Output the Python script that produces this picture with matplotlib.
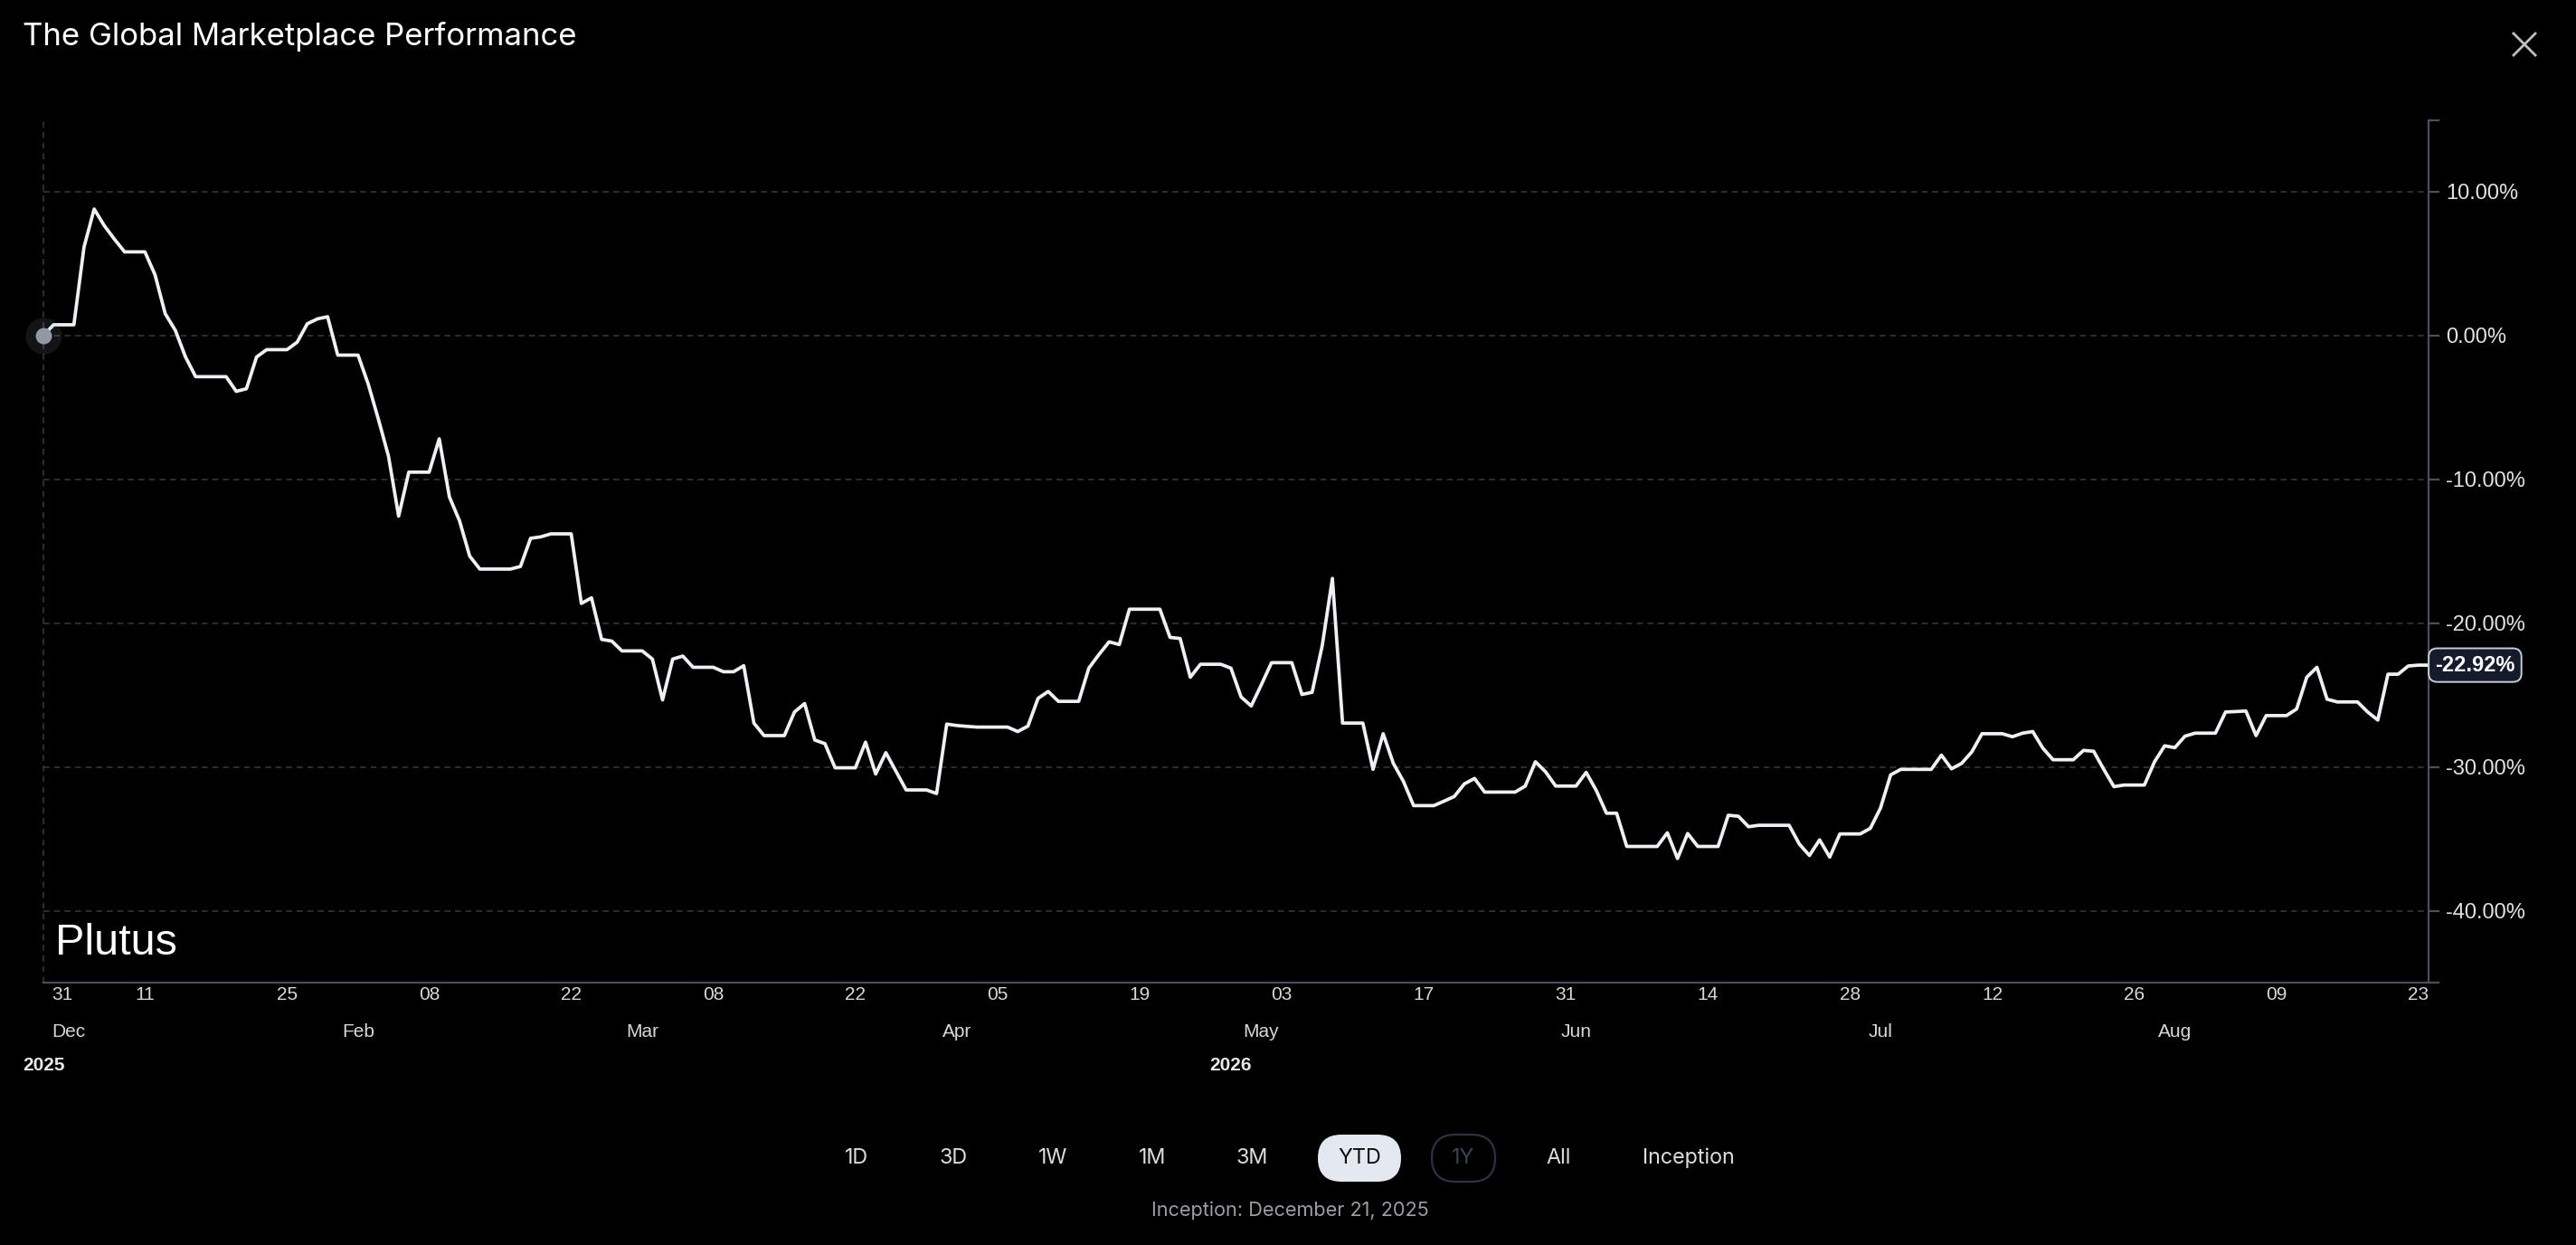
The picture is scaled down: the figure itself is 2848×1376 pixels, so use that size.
import pandas as pd
import matplotlib
matplotlib.use("Agg")
from matplotlib import pyplot as plt
from matplotlib import transforms
from matplotlib.ticker import FixedLocator, FuncFormatter
from matplotlib.patches import FancyBboxPatch
from matplotlib.lines import Line2D

# daily performance (%) since the start of the year
pct = [
    0, 0.75, 0.75, 0.75, 6.15, 8.8, 7.64, 6.7, 5.82, 5.82,
    5.82, 4.22, 1.52, 0.36, -1.49, -2.86, -2.86, -2.86, -2.86, -3.88,
    -3.7, -1.49, -0.98, -0.98, -0.98, -0.46, 0.82, 1.16, 1.31, -1.36,
    -1.36, -1.36, -3.37, -5.81, -8.39, -12.56, -9.5, -9.5, -9.5, -7.18,
    -11.22, -12.89, -15.34, -16.24, -16.24, -16.24, -16.24, -16.06, -14.1, -14.0,
    -13.79, -13.79, -13.79, -18.63, -18.24, -21.13, -21.25, -21.93, -21.93, -21.93,
    -22.5, -25.34, -22.5, -22.29, -23.07, -23.07, -23.07, -23.38, -23.38, -22.96,
    -26.95, -27.82, -27.82, -27.82, -26.18, -25.59, -28.13, -28.38, -30.06, -30.06,
    -30.06, -28.28, -30.49, -29.01, -30.3, -31.6, -31.6, -31.6, -31.85, -27.02,
    -27.12, -27.18, -27.23, -27.23, -27.23, -27.23, -27.54, -27.16, -25.23, -24.75,
    -25.44, -25.44, -25.44, -23.13, -22.18, -21.3, -21.49, -19.03, -19.03, -19.03,
    -19.03, -20.99, -21.07, -23.76, -22.86, -22.86, -22.86, -23.13, -25.13, -25.76,
    -24.28, -22.75, -22.75, -22.75, -24.96, -24.81, -21.55, -16.89, -26.95, -26.95,
    -26.95, -30.17, -27.69, -29.75, -31.01, -32.69, -32.69, -32.69, -32.38, -32.06,
    -31.18, -30.8, -31.75, -31.75, -31.75, -31.75, -31.33, -29.64, -30.34, -31.33,
    -31.33, -31.33, -30.38, -31.64, -33.22, -33.22, -35.53, -35.53, -35.53, -35.53,
    -34.58, -36.37, -34.63, -35.53, -35.53, -35.53, -33.36, -33.43, -34.16, -34.06,
    -34.06, -34.06, -34.06, -35.36, -36.16, -35.07, -36.27, -34.66, -34.66, -34.66,
    -34.27, -32.86, -30.55, -30.17, -30.17, -30.17, -30.17, -29.18, -30.13, -29.75,
    -28.95, -27.69, -27.69, -27.69, -27.9, -27.65, -27.54, -28.7, -29.5, -29.5,
    -29.5, -28.85, -28.91, -30.17, -31.37, -31.26, -31.26, -31.26, -29.64, -28.53,
    -28.66, -27.86, -27.65, -27.65, -27.65, -26.18, -26.15, -26.11, -27.82, -26.43,
    -26.43, -26.43, -25.97, -23.76, -23.07, -25.29, -25.48, -25.48, -25.48, -26.18,
    -26.74, -23.55, -23.55, -22.98, -22.92, -22.92,
]
dates = pd.date_range("2026-01-01", periods=len(pct), freq="D")

tick_dates = pd.to_datetime([
    "2026-01-01", "2026-01-11", "2026-01-25", "2026-02-08", "2026-02-22",
    "2026-03-08", "2026-03-22", "2026-04-05", "2026-04-19", "2026-05-03",
    "2026-05-17", "2026-05-31", "2026-06-14", "2026-06-28", "2026-07-12",
    "2026-07-26", "2026-08-09", "2026-08-23",
])
tick_labels = ["31", "11", "25", "08", "22", "08", "22", "05", "19", "03",
               "17", "31", "14", "28", "12", "26", "09", "23"]
month_dates = pd.to_datetime([
    "2026-01-01", "2026-02-01", "2026-03-01", "2026-04-01", "2026-05-01",
    "2026-06-01", "2026-07-01", "2026-07-30",
])
month_labels = ["Dec", "Feb", "Mar", "Apr", "May", "Jun", "Jul", "Aug"]
year_dates = pd.to_datetime(["2026-01-01", "2026-04-28"])
year_labels = ["2025", "2026"]
y_ticks = [-40, -30, -20, -10, 0, 10]

ranges = ["1D", "3D", "1W", "1M", "3M", "YTD", "1Y", "All", "Inception"]
range_x = [947, 1054, 1164, 1274, 1384, 1503, 1618, 1723, 1867]
active_range = "YTD"
disabled_range = "1Y"

W, H, DPI = 2848, 1376, 200
AX_COL = "#4b505e"
SANS = ["Liberation Sans", "DejaVu Sans"]
UI = ["Inter", "DejaVu Sans"]

fig = plt.figure(figsize=(W / DPI, H / DPI), dpi=DPI, facecolor="black")
ax = fig.add_axes([48 / W, 290 / H, 2637 / W, 953.5 / H])
ax.set_facecolor("black")

# Plot
ax.plot(dates, pct, color="#eef0f6", lw=1.35, solid_joinstyle="round", zorder=3)
ax.scatter(dates[:1], pct[:1], s=210, color="#9aa1ad", alpha=0.13, lw=0,
           zorder=4, clip_on=False)
ax.scatter(dates[:1], pct[:1], s=42, color="#9299a6", lw=0, zorder=5,
           clip_on=False)

ax.set_xlim(dates[0], dates[-1])
ax.set_ylim(-45, 15)

for y in y_ticks:
    ax.axhline(y, color="#363636", lw=0.6, ls=(0, (4, 3)), zorder=1)
ax.axvline(dates[0], color="#363636", lw=0.6, ls=(0, (4, 3)), zorder=1,
           clip_on=False)

for side in ["left", "top"]:
    ax.spines[side].set_visible(False)
for side in ["right", "bottom"]:
    ax.spines[side].set_color(AX_COL)
    ax.spines[side].set_linewidth(0.8)

# y axis on the right
ax.yaxis.tick_right()
ax.yaxis.set_major_locator(FixedLocator(y_ticks))
ax.yaxis.set_minor_locator(FixedLocator([-45, 15]))
ax.yaxis.set_major_formatter(FuncFormatter(lambda v, _: f"{v:.2f}%"))
ax.tick_params(axis="y", which="both", length=4.3, width=0.8, color=AX_COL,
               pad=2.5, labelsize=8.5, labelcolor="#e2e2e2")
for lab in ax.get_yticklabels():
    lab.set_family(SANS)

# x axis: days, months, years
ax.set_xticks(tick_dates, tick_labels)
ax.tick_params(axis="x", length=0, pad=1.6, labelsize=7.5, labelcolor="#d8d8d8")
for lab in ax.get_xticklabels():
    lab.set_family(SANS)
first = ax.get_xticklabels()[0]
first.set_ha("left")
first.set_transform(first.get_transform()
                    + transforms.ScaledTranslation(9 / DPI, 0, fig.dpi_scale_trans))

xa = transforms.blended_transform_factory(ax.transData, ax.transAxes)
for i, (d, m) in enumerate(zip(month_dates, month_labels)):
    tr = xa
    ha = "center"
    if i == 0:
        ha = "left"
        tr = xa + transforms.ScaledTranslation(9 / DPI, 0, fig.dpi_scale_trans)
    ax.text(d, -0.0629, m, transform=tr, ha=ha, va="baseline", fontsize=7.5,
            color="#d8d8d8", family=SANS)
for d, yl in zip(year_dates, year_labels):
    ax.text(d, -0.102, yl, transform=xa, ha="center", va="baseline",
            fontsize=7.5, fontweight="bold", color="#e8e8e8", family=SANS)

# last value badge
ax.annotate(f"{pct[-1]:.2f}%", xy=(1, pct[-1]),
            xycoords=("axes fraction", "data"), xytext=(2.6, 0),
            textcoords="offset points", ha="left", va="center", fontsize=8.5,
            fontweight="bold", color="white", family=SANS,
            bbox=dict(boxstyle="round,pad=0.3,rounding_size=0.4",
                      fc="#151b2b", ec="#c9cdd8", lw=0.7),
            annotation_clip=False, zorder=6)

# watermark
ax.text(0.005, 0.0325, "Plutus", transform=ax.transAxes, fontsize=17.5,
        color="white", va="baseline",
        family=["Liberation Sans Narrow", "Liberation Sans", "DejaVu Sans"])

# title and close button
fig.text(25 / W, 1 - 50 / H, "The Global Marketplace Performance",
         fontsize=12.5, color="white", family=UI, va="baseline")
for xs, ys in [([2779, 2803], [1315, 1339]), ([2779, 2803], [1339, 1315])]:
    fig.add_artist(Line2D([x / W for x in xs], [y / H for y in ys],
                          transform=fig.transFigure, color="#bfbfc4", lw=1.0))

# range selector
for lab, x in zip(ranges, range_x):
    color = "#dcdde2"
    if lab == active_range:
        color = "#0c0c0c"
        fig.add_artist(FancyBboxPatch((x - 46, 70), 92, 52,
                                      boxstyle="round,pad=0,rounding_size=26",
                                      transform=transforms.IdentityTransform(),
                                      fc="#e4e8f0", ec="none"))
    elif lab == disabled_range:
        color = "#3e4452"
        fig.add_artist(FancyBboxPatch((x - 35, 70), 70, 52,
                                      boxstyle="round,pad=0,rounding_size=26",
                                      transform=transforms.IdentityTransform(),
                                      fc="none", ec="#2c3240", lw=0.8))
    fig.text(x / W, 96 / H, lab, ha="center", va="center", fontsize=8.4,
             color=color, family=UI)

fig.text(1426 / W, 1 - 1338 / H, "Inception: December 21, 2025", ha="center",
         va="center", fontsize=7.8, color="#9c9ea6", family=UI)

fig.savefig("out.png", dpi=DPI, facecolor="black")
